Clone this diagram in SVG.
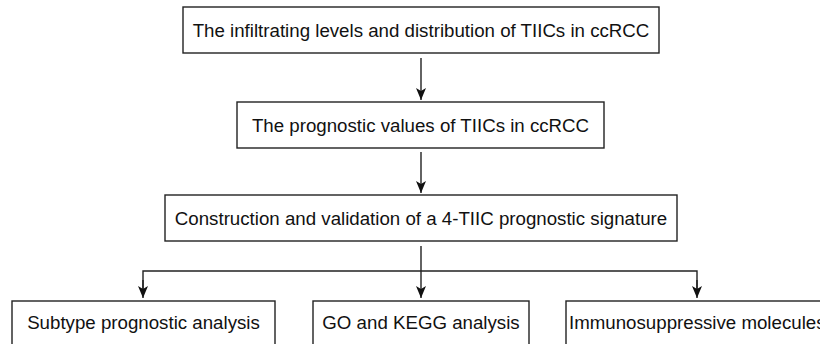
<svg xmlns="http://www.w3.org/2000/svg" width="820" height="344" viewBox="0 0 820 344">
<defs>
<marker id="ah" viewBox="0 0 12 10" refX="12" refY="5" markerWidth="12" markerHeight="10" markerUnits="userSpaceOnUse" orient="auto">
<path d="M0,0 L12,5 L0,10 L3,5 Z" fill="#111"/>
</marker>
<style>
.box{fill:#fff;stroke:#222;stroke-width:1.4}
.t{font-family:"Liberation Sans",Arial,sans-serif;font-size:18.7px;fill:#111;text-anchor:middle}
.c{fill:none;stroke:#222;stroke-width:1.4}
</style>
</defs>
<rect width="820" height="344" fill="#fff"/>
<g id="connectors">
<line class="c" x1="421" y1="58" x2="421" y2="100" marker-end="url(#ah)"/>
<line class="c" x1="421" y1="152" x2="421" y2="193" marker-end="url(#ah)"/>
<line class="c" x1="421" y1="246" x2="421" y2="298" marker-end="url(#ah)"/>
<polyline class="c" points="143,290 143,271 697,271 697,290"/>
<line class="c" x1="143" y1="280" x2="143" y2="298" marker-end="url(#ah)"/>
<line class="c" x1="697" y1="280" x2="697" y2="298" marker-end="url(#ah)"/>
</g>
<g id="n1">
<rect class="box" x="183" y="7" width="476" height="46"/>
<text class="t" x="421" y="37">The infiltrating levels and distribution of TIICs in ccRCC</text>
</g>
<g id="n2">
<rect class="box" x="237" y="102" width="367" height="46"/>
<text class="t" x="420.5" y="132">The prognostic values of TIICs in ccRCC</text>
</g>
<g id="n3">
<rect class="box" x="165" y="195" width="512" height="46"/>
<text class="t" x="421" y="225">Construction and validation of a 4-TIIC prognostic signature</text>
</g>
<g id="n4">
<rect class="box" x="12" y="301" width="263" height="60"/>
<text class="t" x="143.5" y="329">Subtype prognostic analysis</text>
</g>
<g id="n5">
<rect class="box" x="313" y="301" width="216" height="60"/>
<text class="t" x="421" y="329">GO and KEGG analysis</text>
</g>
<g id="n6">
<rect class="box" x="566" y="301" width="280" height="60"/>
<text class="t" x="569" y="329" style="text-anchor:start">Immunosuppressive molecules</text>
</g>
</svg>
